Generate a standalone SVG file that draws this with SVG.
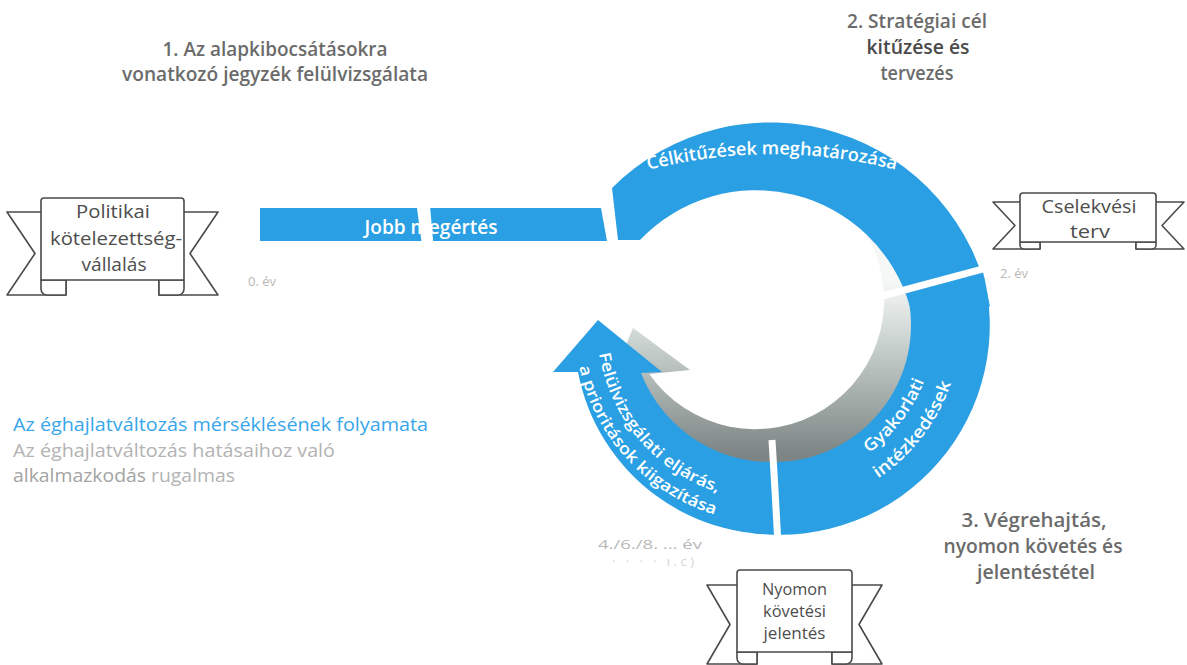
<svg xmlns="http://www.w3.org/2000/svg" width="1187" height="665" viewBox="0 0 1187 665">
<style>
.blue{fill:#2b9fe3}
.gap{stroke:#fff;stroke-width:7;fill:none}
.rib{fill:#fff;stroke:#4a4a4a;stroke-width:1.6;stroke-linejoin:round}
.rt{font-family:"Open Sans","Liberation Sans",sans-serif;font-size:18px;fill:#4d4d4d;text-anchor:middle}
.hd{font-family:"Open Sans","Liberation Sans",sans-serif;font-size:19px;font-weight:600;fill:#6b6b6b;text-anchor:middle}
.wt{font-family:"Open Sans","Liberation Sans",sans-serif;font-weight:600;fill:#fff}
.yr{font-family:"Open Sans","Liberation Sans",sans-serif;font-size:13px;fill:#b8b8b8}
.lg{font-family:"Open Sans","Liberation Sans",sans-serif;font-size:18px}
</style>
<defs>
<linearGradient id="gr" gradientUnits="userSpaceOnUse" x1="0" y1="280" x2="0" y2="455">
<stop offset="0" stop-color="#f6f8f8"/>
<stop offset="0.35" stop-color="#cbd3d1"/>
<stop offset="1" stop-color="#7d8584"/>
</linearGradient>
<path id="tp1" d="M620,178 A500,500 0 0 1 924,178"/>
<path id="tp2" d="M801.96,481.55 A161,161 0 0 0 934.39,308.97"/>
<path id="tp3" d="M806.47,507.16 A187,187 0 0 0 960.29,306.7"/>
<path id="tp4" d="M600.51,291.11 A175,175 0 0 0 779.63,500.83"/>
<path id="tp5" d="M577.7,293.48 A197,197 0 0 0 787.46,522.39"/>
</defs>
<rect width="1187" height="665" fill="#fff"/>

<g id="headings">
<text class="hd" x="275" y="56" textLength="225" lengthAdjust="spacingAndGlyphs">1. Az alapkibocsátásokra</text>
<text class="hd" x="275" y="81" textLength="306" lengthAdjust="spacingAndGlyphs">vonatkozó jegyzék felülvizsgálata</text>
<text class="hd" x="917" y="28" textLength="140" lengthAdjust="spacingAndGlyphs">2. Stratégiai cél</text>
<text class="hd" x="918" y="54" textLength="103" lengthAdjust="spacingAndGlyphs" style="fill:#4a4a4a">kitűzése és</text>
<text class="hd" x="917" y="80" textLength="73" lengthAdjust="spacingAndGlyphs">tervezés</text>
<text class="hd" x="1034" y="527" textLength="145" lengthAdjust="spacingAndGlyphs">3. Végrehajtás,</text>
<text class="hd" x="1033" y="553" textLength="179" lengthAdjust="spacingAndGlyphs">nyomon követés és</text>
<text class="hd" x="1036" y="579" textLength="118" lengthAdjust="spacingAndGlyphs">jelentéstétel</text>
</g>

<g id="legend">
<text class="lg" x="13" y="431" fill="#38a6ea" textLength="415" lengthAdjust="spacingAndGlyphs">Az éghajlatváltozás mérséklésének folyamata</text>
<text class="lg" x="13" y="457" fill="#b3b3b3" textLength="322" lengthAdjust="spacingAndGlyphs">Az éghajlatváltozás hatásaihoz való</text>
<text class="lg" x="13" y="482" fill="#b3b3b3" textLength="222" lengthAdjust="spacingAndGlyphs"><tspan fill="#a3a3a3">alkalmazkodás</tspan> rugalmas</text>
</g>

<g id="years">
<text class="yr" x="248" y="286">0. év</text>
<text class="yr" x="1000" y="278">2. év</text>
<text class="yr" x="598" y="549" textLength="104" lengthAdjust="spacingAndGlyphs">4./6./8. ... év</text>
<text class="yr" x="612" y="566" style="fill:#d6d6d6" textLength="82" lengthAdjust="spacing">·  ·  ·  ·  ı.c)</text>
</g>

<g id="connectors">
<path d="M903.9,250 A150,150 0 1 1 633.05,376.3 L612,378 L633,328 L690,370 L649.3,374 A129,129 0 0 0 866.7,235.5 Z" fill="url(#gr)"/>
</g>

<g id="bar-jobb-megertes">
<path class="blue" d="M260,208 L601,208 L607,241 L260,241 Z"/>
<text class="wt" x="431" y="234" font-size="19" text-anchor="middle" textLength="133" lengthAdjust="spacingAndGlyphs">Jobb megértés</text>
<path d="M416.7,206 L430,206 L433.3,243 L421.7,243 Z" fill="#fff"/>
</g>

<g id="seg-gyakorlati">
<path class="blue" d="M981.9,267.8 A210,210 0 0 1 752.3,533 L762.1,461.5 A137,137 0 0 0 906,288.4 Z"/>
<text class="wt" font-size="17"><textPath href="#tp2" startOffset="50%" text-anchor="middle" textLength="92" lengthAdjust="spacingAndGlyphs">Gyakorlati</textPath></text>
<text class="wt" font-size="17"><textPath href="#tp3" startOffset="50%" text-anchor="middle" textLength="122" lengthAdjust="spacingAndGlyphs">intézkedések</textPath></text>
</g>

<g id="seg-celkituzesek">
<path class="blue" d="M612,188 A223.4,223.4 0 0 1 990,306.6 L909.7,305.9 A160,160 0 0 0 640,240 L618,240 Z"/>
<text class="wt" font-size="18"><textPath href="#tp1" startOffset="50%" text-anchor="middle" textLength="250" lengthAdjust="spacingAndGlyphs">Célkitűzések meghatározása</textPath></text>
</g>

<g id="seg-felulvizsgalat">
<path class="blue" d="M797.8,533.1 A200,200 0 0 1 578,372 L553,372 L598,320 L662,372 L641,373 A140,140 0 0 0 785.9,461.5 Z"/>
<text class="wt" font-size="16"><textPath href="#tp4" startOffset="50%" text-anchor="middle" textLength="192" lengthAdjust="spacingAndGlyphs">Felülvizsgálati eljárás,</textPath></text>
<text class="wt" font-size="16"><textPath href="#tp5" startOffset="50%" text-anchor="middle" textLength="210" lengthAdjust="spacingAndGlyphs">a prioritások kiigazítása</textPath></text>
</g>

<g id="gaps">
<path class="gap" d="M880.3,296.5 L1000,264.4"/>
<path class="gap" d="M772,440 L775,490 L778,545"/>
</g>

<g id="node-politikai">
<path class="rib" d="M7,212 L66,212 L66,295 L7,295 L35,253.5 Z"/>
<path class="rib" d="M218,212 L159,212 L159,295 L218,295 L190,253.5 Z"/>
<path class="rib" d="M41,280 L66,280 L66,295 L47,295 A6,6 0 0 1 41,289 Z"/>
<path class="rib" d="M184,280 L159,280 L159,295 L178,295 A6,6 0 0 0 184,289 Z"/>
<path class="rib" d="M41,280 L41,201 Q41,198 44,198 L181,198 Q184,198 184,201 L184,280 Z"/>
<text class="rt" x="113" y="218" textLength="74" lengthAdjust="spacingAndGlyphs">Politikai</text>
<text class="rt" x="116" y="245" textLength="132" lengthAdjust="spacingAndGlyphs">kötelezettség-</text>
<text class="rt" x="114" y="271" textLength="65" lengthAdjust="spacingAndGlyphs">vállalás</text>
</g>

<g id="node-cselekvesi">
<path class="rib" d="M993,202 L1040,202 L1040,249 L993,249 L1015,225.5 Z"/>
<path class="rib" d="M1184,202 L1136,202 L1136,249 L1184,249 L1162,225.5 Z"/>
<path class="rib" d="M1020,242 L1040,242 L1040,249 L1024,249 A4,4 0 0 1 1020,245 Z"/>
<path class="rib" d="M1156,242 L1136,242 L1136,249 L1152,249 A4,4 0 0 0 1156,245 Z"/>
<path class="rib" d="M1020,242 L1020,196 Q1020,193 1023,193 L1153,193 Q1156,193 1156,196 L1156,242 Z"/>
<text class="rt" x="1089" y="213" textLength="95" lengthAdjust="spacingAndGlyphs">Cselekvési</text>
<text class="rt" x="1090" y="238" textLength="40" lengthAdjust="spacingAndGlyphs">terv</text>
</g>

<g id="node-nyomon">
<path class="rib" d="M707,585 L757,585 L757,664 L707,664 L730,624.5 Z"/>
<path class="rib" d="M882,585 L832,585 L832,664 L882,664 L859,624.5 Z"/>
<path class="rib" d="M737,652 L757,652 L757,664 L743,664 A6,6 0 0 1 737,658 Z"/>
<path class="rib" d="M852,652 L832,652 L832,664 L846,664 A6,6 0 0 0 852,658 Z"/>
<path class="rib" d="M737,652 L737,573 Q737,570 740,570 L849,570 Q852,570 852,573 L852,652 Z"/>
<text class="rt" x="794.5" y="595" style="font-size:16px" textLength="65" lengthAdjust="spacingAndGlyphs">Nyomon</text>
<text class="rt" x="794.5" y="617" style="font-size:16px" textLength="63" lengthAdjust="spacingAndGlyphs">követési</text>
<text class="rt" x="794.5" y="639" style="font-size:16px" textLength="62" lengthAdjust="spacingAndGlyphs">jelentés</text>
</g>
</svg>
